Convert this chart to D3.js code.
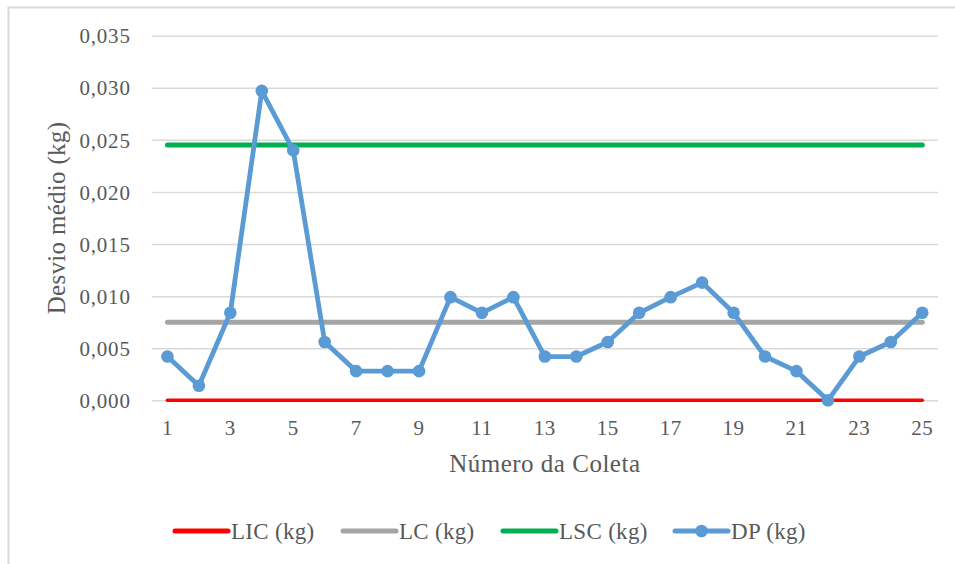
<!DOCTYPE html>
<html>
<head>
<meta charset="utf-8">
<script src="https://cdn.jsdelivr.net/npm/d3@7"></script>
<style>
  html, body { margin: 0; padding: 0; background: #fff; }
  svg { display: block; }
</style>
</head>
<body>
<svg id="chart" width="955" height="564"></svg>
<script>
// Coletas (amostras)
const categories = [1, 2, 3, 4, 5, 6, 7, 8, 9, 10, 11, 12, 13, 14, 15, 16, 17, 18, 19, 20, 21, 22, 23, 24, 25];
// Desvio padrão de cada coleta (kg)
const dpValues = [0.0042, 0.0014, 0.0084, 0.0297, 0.0240, 0.0056, 0.0028, 0.0028, 0.0028, 0.0099,
                  0.0084, 0.0099, 0.0042, 0.0042, 0.0056, 0.0084, 0.0099, 0.0113, 0.0084, 0.0042,
                  0.0028, 0.0000, 0.0042, 0.0056, 0.0084];
// Limites de controle (kg)
const licValue = 0.0;
const lcValue = 0.0075;
const lscValue = 0.0245;
// Marcas do eixo
const yTicks = [0, 0.005, 0.010, 0.015, 0.020, 0.025, 0.030, 0.035];
const xTickLabels = [1, 3, 5, 7, 9, 11, 13, 15, 17, 19, 21, 23, 25];

const FONT = "'Liberation Serif', Tinos, 'Times New Roman', serif";
const TEXT_COLOR = "#595959";

const series = [
  { name: "LIC (kg)", color: "#ff0000", width: 3.6, values: categories.map(() => licValue), marker: false },
  { name: "LC (kg)",  color: "#a5a5a5", width: 5,   values: categories.map(() => lcValue),  marker: false },
  { name: "LSC (kg)", color: "#00b050", width: 5,   values: categories.map(() => lscValue), marker: false },
  { name: "DP (kg)",  color: "#5b9bd5", width: 4.8, values: dpValues, marker: true }
];

const svg = d3.select("#chart");

// Moldura do gráfico
svg.append("rect")
  .attr("x", 8.5).attr("y", 7.5)
  .attr("width", 980).attr("height", 600)
  .attr("fill", "none").attr("stroke", "#d9d9d9").attr("stroke-width", 2);

const plot = { left: 151.7, right: 938, top: 35.7, bottom: 400.3 };

const x = d3.scaleBand()
  .domain(categories)
  .range([plot.left, plot.right]);
const cx = d => x(d) + x.bandwidth() / 2;

const y = d3.scaleLinear()
  .domain([0, 0.035])
  .range([plot.bottom, plot.top]);

const locale = d3.formatLocale({ decimal: ",", thousands: ".", grouping: [3], currency: ["R$", ""] });
const fmt = locale.format(".3f");

// Linhas de grade horizontais + rótulos do eixo Y
const yAxis = d3.axisLeft(y)
  .tickValues(yTicks)
  .tickFormat(fmt)
  .tickSize(-(plot.right - plot.left))
  .tickPadding(21);

const gy = svg.append("g")
  .attr("transform", `translate(${plot.left},0)`)
  .call(yAxis)
  .attr("font-family", null)
  .attr("font-size", null);
gy.select(".domain").remove();
gy.selectAll(".tick line").attr("stroke", "#d9d9d9").attr("stroke-width", 1.5);
gy.selectAll(".tick text")
  .attr("fill", TEXT_COLOR)
  .style("font-family", FONT)
  .style("font-size", "21px")
  .style("letter-spacing", "0.8px")
  .attr("dy", "0.34em");

// Rótulos do eixo X
const xAxis = d3.axisBottom(x)
  .tickValues(xTickLabels)
  .tickSize(0)
  .tickPadding(0);

const gx = svg.append("g")
  .attr("transform", `translate(0,${plot.bottom})`)
  .call(xAxis)
  .attr("font-family", null)
  .attr("font-size", null);
gx.select(".domain").remove();
gx.selectAll(".tick text")
  .attr("fill", TEXT_COLOR)
  .attr("y", 35)
  .attr("dy", 0)
  .style("font-family", FONT)
  .style("font-size", "21px")
  .style("letter-spacing", "0.5px");

// Títulos dos eixos
svg.append("text")
  .attr("transform", `translate(65,${(plot.top + plot.bottom) / 2}) rotate(-90)`)
  .attr("text-anchor", "middle")
  .attr("fill", TEXT_COLOR)
  .style("font-family", FONT)
  .style("font-size", "25px")
  .style("letter-spacing", "0.3px")
  .text("Desvio médio (kg)");

svg.append("text")
  .attr("x", (plot.left + plot.right) / 2)
  .attr("y", 472)
  .attr("text-anchor", "middle")
  .attr("fill", TEXT_COLOR)
  .style("font-family", FONT)
  .style("font-size", "25px")
  .style("letter-spacing", "0.5px")
  .text("Número da Coleta");

// Séries
const line = d3.line()
  .x((d, i) => cx(categories[i]))
  .y(d => y(d));

series.forEach(s => {
  svg.append("path")
    .datum(s.values)
    .attr("d", line)
    .attr("fill", "none")
    .attr("stroke", s.color)
    .attr("stroke-width", s.width)
    .attr("stroke-linecap", "round")
    .attr("stroke-linejoin", "round");
  if (s.marker) {
    svg.append("g").selectAll("circle")
      .data(s.values)
      .join("circle")
      .attr("cx", (d, i) => cx(categories[i]))
      .attr("cy", d => y(d))
      .attr("r", 6.3)
      .attr("fill", s.color);
  }
});

// Legenda
const legendX = [175, 343, 503, 675];
const legendY = 531;
const legend = svg.append("g");
series.forEach((s, i) => {
  const g = legend.append("g").attr("transform", `translate(${legendX[i]},${legendY})`);
  g.append("line")
    .attr("x1", 0).attr("x2", 53)
    .attr("y1", 0).attr("y2", 0)
    .attr("stroke", s.color)
    .attr("stroke-width", 5)
    .attr("stroke-linecap", "round");
  if (s.marker) {
    g.append("circle").attr("cx", 26.5).attr("cy", 0).attr("r", 6.3).attr("fill", s.color);
  }
  g.append("text")
    .attr("x", 56)
    .attr("y", 0)
    .attr("dy", "0.33em")
    .attr("fill", TEXT_COLOR)
    .style("font-family", FONT)
    .style("font-size", "23px")
    .style("letter-spacing", "0.3px")
    .text(s.name);
});
</script>
</body>
</html>
